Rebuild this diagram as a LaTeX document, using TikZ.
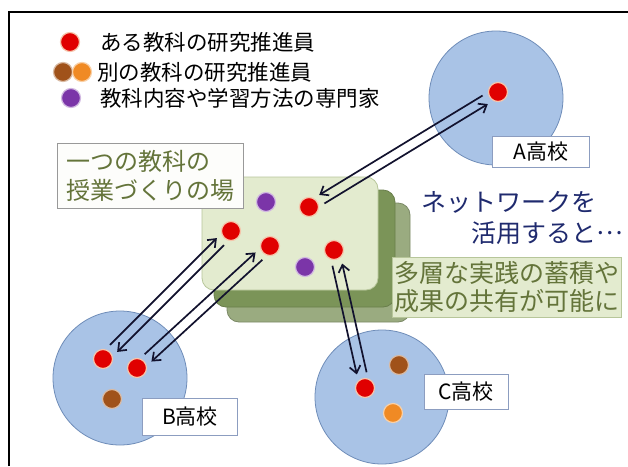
\documentclass[tikz,border=0pt]{standalone}
\usepackage{fontspec}
\setmainfont{Noto Sans CJK JP}
\usetikzlibrary{calc,arrows.meta}
\definecolor{schoolfill}{HTML}{A9C3E6}
\definecolor{schooldraw}{HTML}{6E8CB8}
\definecolor{redc}{HTML}{E00000}
\definecolor{redhalo}{HTML}{F6C4AA}
\definecolor{purplec}{HTML}{7B35A8}
\definecolor{brownc}{HTML}{A0521A}
\definecolor{orangec}{HTML}{F08A24}
\definecolor{frontg}{HTML}{E3EBCF}
\definecolor{frontgd}{HTML}{B7C69A}
\definecolor{midg}{HTML}{7B9458}
\definecolor{backg}{HTML}{9AAB80}
\definecolor{olivetext}{HTML}{64743A}
\definecolor{navytext}{HTML}{1F2A6E}
\definecolor{arrowc}{HTML}{12122E}
\definecolor{tagdraw}{HTML}{8C9DC0}
\newcommand\twoway[4]{%
  \draw[arr,->] ($(#1)!15pt!(#2)!5pt!#3:(#2)$) -- ($(#2)!15pt!(#1)!5pt!#4:(#1)$);
  \draw[arr,<-] ($(#1)!15pt!(#2)!5pt!#4:(#2)$) -- ($(#2)!15pt!(#1)!5pt!#3:(#1)$);
}
\begin{document}
\begin{tikzpicture}[x=1pt,y=-1pt,
  school/.style={circle,fill=schoolfill,draw=schooldraw,line width=0.8pt,minimum size=134pt,inner sep=0pt},
  dot/.style={circle,minimum size=19pt,inner sep=0pt,line width=1.2pt},
  reddot/.style={dot,fill=redc,draw=redhalo},
  purpledot/.style={dot,fill=purplec,draw=purplec!35},
  browndot/.style={dot,fill=brownc,draw=brownc!40},
  orangedot/.style={dot,fill=orangec,draw=orangec!40},
  tag/.style={draw=tagdraw,fill=white,line width=0.8pt,font=\fontsize{21}{24}\selectfont,inner sep=0pt},
  legend/.style={anchor=west,font=\fontsize{21.5}{24}\selectfont,inner sep=0pt},
  arr/.style={draw=arrowc,line width=1.7pt,>={Straight Barb[length=7pt,width=11pt]}},
  layer/.style={rounded corners=12pt,line width=0.8pt}
]
\useasboundingbox (0,0) rectangle (628,466);
\fill[white] (0,0) rectangle (628,466);
\draw[line width=1.5pt] (9,466) -- (9,12) -- (628,12);

% legend
\node[reddot] (L1) at (70,42) {};
\node[legend] (T1) at (100,42) {ある教科の研究推進員};
\node[browndot] (L2a) at (63,72) {};
\node[orangedot] (L2b) at (82,72) {};
\node[legend] (T2) at (97,72) {別の教科の研究推進員};
\node[purpledot] (L3) at (71,98) {};
\node[legend] (T3) at (100,98) {教科内容や学習方法の専門家};

% schools
\node[school] (A) at (496,98) {};
\node[school] (B) at (120,378) {};
\node[school] (C) at (382,397) {};
\node[tag,minimum width=97pt,minimum height=31pt] (Al) at (541,152) {A高校};
\node[tag,minimum width=95pt,minimum height=37pt] (Bl) at (190,417) {B高校};
\node[tag,minimum width=84pt,minimum height=35pt] (Cl) at (466,392) {C高校};

% stacked lesson planes
\draw[layer,fill=backg,draw=backg!80!black] (227,203) rectangle (410,322);
\draw[layer,fill=midg,draw=midg!85!black] (214,190) rectangle (395,307);
\draw[layer,fill=frontg,draw=frontgd] (202,177) rectangle (378,290);

% labels
\node[draw=gray!80,fill=white!92!frontg,line width=0.8pt,text=olivetext,align=left,
      font=\fontsize{24}{29}\selectfont,inner sep=1pt,minimum width=186pt,minimum height=65pt] (field) at (150,175.5)
      {一つの教科の\\授業づくりの場};
\node[draw=frontgd,fill=frontg,line width=0.8pt,text=olivetext,align=left,anchor=west,
      font=\fontsize{25}{28}\selectfont,inner sep=2pt,minimum height=60pt] (result) at (392,287)
      {多層な実践の蓄積や\\成果の共有が可能に};
\node[text=navytext,align=left,anchor=west,font=\fontsize{25}{31}\selectfont,inner sep=0pt] (net) at (421,217.5)
      {ネットワークを\\\hspace*{2em}活用すると\raisebox{0.3em}{…}};

% dots in the field
\node[purpledot] (P1) at (266,202) {};
\node[reddot] (R2) at (309,207) {};
\node[reddot] (R1) at (231,231) {};
\node[reddot] (R3) at (270,246) {};
\node[reddot] (R5) at (334,250) {};
\node[purpledot] (P2) at (305,267) {};

% dots in schools
\node[reddot] (A1) at (498,92) {};
\node[reddot] (B1) at (103,359) {};
\node[reddot] (B2) at (137,368) {};
\node[browndot] (B3) at (112,399) {};
\node[reddot] (C1) at (365,388) {};
\node[browndot] (C2) at (399,365) {};
\node[orangedot] (C3) at (393,413) {};

% connectors
\twoway{R2.center}{A1.center}{-90}{90}
\twoway{R1.center}{B1.center}{90}{-90}
\twoway{R3.center}{B2.center}{90}{-90}
\twoway{R5.center}{C1.center}{-90}{90}
\end{tikzpicture}
\end{document}
